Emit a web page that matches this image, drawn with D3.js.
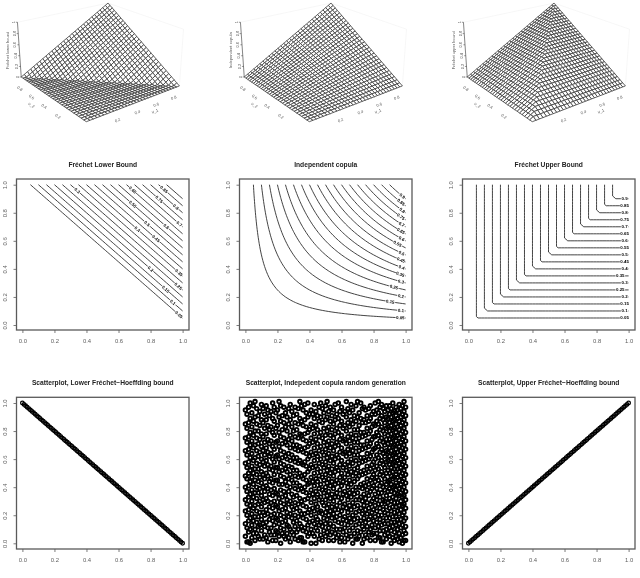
<!DOCTYPE html>
<html>
<head>
<meta charset="utf-8">
<script src="https://cdn.jsdelivr.net/npm/d3@7"></script>
<style>
html,body{margin:0;padding:0;background:#fff}
svg{display:block;filter:grayscale(1)}
text{font-family:"Liberation Sans",Arial,sans-serif}
</style>
</head>
<body>
<svg id="fig" width="640" height="578"></svg>
<script>
// Copula panel titles
const surfaceLabels = ["Fréchet lower bound", "Independent copula", "Fréchet upper bound"];
const contourTitles = ["Fréchet Lower Bound", "Independent copula", "Fréchet Upper Bound"];
const scatterTitles = ["Scatterplot, Lower Fréchet−Hoeffding bound",
                       "Scatterplot, Indepedent copula random generation",
                       "Scatterplot, Upper Fréchet−Hoeffding bound"];

// Contour levels and tick values
const levels = [0.05,0.1,0.15,0.2,0.25,0.3,0.35,0.4,0.45,0.5,0.55,0.6,0.65,0.7,0.75,0.8,0.85,0.9];
const levelText = ["0.05","0.1","0.15","0.2","0.25","0.3","0.35","0.4","0.45","0.5","0.55","0.6","0.65","0.7","0.75","0.8","0.85","0.9"];
const axisTicks = [0,0.2,0.4,0.6,0.8,1];
const surfaceAxisTicks = [0.2,0.4,0.6,0.8];
const surfaceZTicks = [0,0.2,0.4,0.6,0.8,1];

// Where along each contour its label sits (u coordinate, by level; null = unlabelled)
const lowerLabelU = [0.977,0.938,0.894,0.80,0.973,0.343,0.977,0.717,0.834,0.778,0.688,0.898,0.688,0.979,0.854,0.958,0.884,null];
const indepLabelU = [0.967,0.971,0.904,0.971,0.927,0.971,0.967,0.975,0.971,0.975,0.95,0.975,0.971,0.975,0.971,0.979,0.971,0.979];
const upperLabelU = [0.975,0.975,0.975,0.975,0.948,0.975,0.948,0.975,0.975,0.975,0.975,0.975,0.975,0.975,0.975,0.975,0.975,0.975];

// Copula functions shown in the three columns
const copulas = [
  (u,v) => Math.max(u+v-1,0),
  (u,v) => u*v,
  (u,v) => Math.min(u,v)
];
// Each level curve written as v = f(u), for placing and turning its label
const levelCurves = [
  (c,u) => c+1-u,
  (c,u) => c/u,
  (c,u) => c
];
const labelU = [lowerLabelU, indepLabelU, upperLabelU];

// Sample along the two diagonals, in hundredths
const boundU = [0,1,2,3,4,5,6,7,8,9,10,11,12,13,14,15,16,17,18,19,20,21,22,23,24,25,26,27,28,29,30,31,32,33,34,35,36,37,38,39,40,41,42,43,44,45,46,47,48,49,50,51,52,53,54,55,56,57,58,59,60,61,62,63,64,65,66,67,68,69,70,71,72,73,74,75,76,77,78,79,80,81,82,83,84,85,86,87,88,89,90,91,92,93,94,95,96,97,98,99,100];

// Independent sample: one row per v (hundredths, bottom to top), u in hundredths
const indepRows = [
[3,22,41,44,67,73,91,98],
[1,2,14,28,36,37,59,62,85,86,96],
[6,17,19,33,48,52,55,78,81,93,99,100],
[9,11,25,31,46,64,69,70,74,88,95],
[4,13,27,34,35,57,60,76,83,84,92,97],
[0,8,21,24,39,43,50,66,71,90,94],
[12,16,18,30,47,53,58,63,75,79,87,98],
[5,7,23,26,40,42,56,68,80,82,89,96,100],
[2,15,20,29,32,38,51,54,61,72,77,93],
[10,19,36,45,49,65,70,84,86,91,99],
[3,6,24,28,33,41,57,59,74,78,88,95],
[1,14,16,22,37,44,52,62,67,81,90,97],
[8,12,27,31,35,48,55,73,76,83,92,100],
[4,9,18,26,39,46,64,69,79,85,94,98],
[0,11,21,34,43,50,53,60,71,87,89,96],
[7,13,23,30,40,47,58,66,75,82,91,93],
[2,5,17,25,32,42,56,63,72,80,86,99],
[10,15,20,38,45,51,61,68,77,84,95,97],
[3,19,29,36,49,54,65,70,74,88,90,100],
[6,8,24,27,33,44,57,62,78,81,92,94],
[1,12,16,22,31,41,52,59,67,83,85,98],
[4,14,18,28,35,37,48,55,73,76,89,96],
[9,11,26,39,46,50,64,69,79,87,93,99],
[0,7,21,34,43,47,53,60,71,82,91,95],
[2,13,23,30,40,56,58,66,75,80,86,97],
[5,17,25,32,42,51,63,72,77,84,90,100],
[10,15,20,29,38,45,54,61,68,88,92,94],
[3,6,19,36,49,57,65,70,74,81,96,98],
[1,8,24,27,33,44,52,62,78,83,85,99],
[12,16,22,31,41,48,59,67,76,89,93,95],
[4,9,14,18,28,35,55,73,79,87,91,97],
[0,11,26,37,46,50,64,69,71,82,86,100],
[7,13,21,34,39,43,53,60,75,80,90,94],
[2,5,23,30,47,56,58,66,72,84,92,98],
[10,17,25,32,40,51,63,77,88,96,99],
[3,15,20,29,42,45,54,61,68,74,81,95],
[6,8,19,38,49,57,65,70,83,85,93,97],
[1,12,24,27,36,44,52,62,78,89,91,100],
[4,16,22,33,41,48,59,67,76,87,94,98],
[9,14,18,31,35,46,55,73,79,82,90,96],
[0,7,11,28,37,50,64,69,71,86,92,99],
[2,13,26,34,43,53,60,75,80,84,93,95],
[5,21,23,39,47,56,66,72,77,88,91,97],
[10,17,30,32,40,51,58,63,74,85,94,100],
[3,8,15,25,42,45,54,61,68,81,89,98],
[6,19,20,29,38,49,57,65,78,83,90,96],
[1,12,16,27,36,44,52,70,76,87,92,99],
[4,9,24,33,41,48,59,62,79,82,93,95],
[0,14,22,31,35,46,55,67,71,86,91,97],
[7,11,18,28,37,50,64,73,80,84,94,100],
[2,5,13,34,43,53,60,69,75,88,90,98],
[10,21,26,39,47,56,66,72,77,85,92,96],
[3,17,23,30,32,51,58,63,74,81,89,99],
[6,8,15,25,40,45,54,68,78,83,93,95],
[1,19,20,29,42,49,57,61,70,87,91,97],
[4,12,16,27,38,44,52,65,76,82,94,100],
[9,14,24,36,41,48,59,62,79,86,90,98],
[0,7,22,33,35,46,55,67,71,84,92,96],
[2,11,18,31,37,50,64,73,80,88,93,99],
[5,13,28,34,43,53,60,69,75,85,89,95],
[10,17,21,26,39,47,56,66,77,81,91,97],
[3,6,23,30,32,51,58,72,74,83,94,100],
[8,15,19,25,40,45,54,63,78,87,90,98],
[1,12,20,29,42,49,57,68,70,82,92,96],
[4,16,27,38,44,52,61,65,76,86,93,99],
[9,14,24,36,41,48,59,62,79,84,89,95],
[0,7,11,22,33,46,55,67,71,88,91,97],
[2,18,31,35,50,64,73,80,85,94,100],
[5,13,28,37,43,53,60,69,75,81,90,98],
[10,17,21,34,39,47,56,66,77,83,92,96],
[3,6,26,30,32,51,58,72,74,87,93,99],
[8,15,23,40,45,54,63,78,82,89,95],
[1,12,19,25,42,49,57,68,70,86,91,97],
[4,16,20,29,38,52,61,65,76,84,94,100],
[9,14,27,36,44,59,62,79,88,90,98],
[0,7,24,33,41,48,55,67,71,85,92,96],
[2,11,22,31,46,64,73,80,81,93,99],
[5,18,28,35,50,53,60,69,75,83,89,95],
[10,13,34,37,43,56,66,77,87,91,97],
[3,17,21,39,47,58,72,74,82,94,100],
[6,8,26,30,51,63,78,86,90,98],
[15,23,32,40,45,54,68,70,84,92,96],
[1,12,19,42,49,57,61,76,88,93,99],
[4,16,25,29,38,52,65,79,85,89,95],
[9,14,20,36,44,59,62,71,81,91,97],
[0,7,27,33,41,55,67,80,83,94,100],
[2,11,24,31,48,64,73,75,87,90,98],
[5,18,22,35,46,53,60,69,77,82,92,96],
[10,13,28,37,50,56,66,74,86,93,99],
[3,17,34,43,58,72,78,84,89,95],
[6,21,26,39,47,51,63,70,88,91,97],
[8,15,23,30,45,54,68,76,85,94,100],
[1,12,32,40,42,57,61,79,81,90,98],
[4,19,25,38,49,65,71,83,92,96],
[9,16,29,44,52,59,62,80,87,93,99],
[0,14,20,36,41,55,67,75,82,89,95],
[7,11,27,33,48,64,73,77,86,91,97],
[2,18,24,31,46,53,60,74,84,94,100],
[5,13,22,35,50,69,78,88,90,98],
[10,28,37,43,56,66,85,96],
[3,17,39,47,58,72,81,92],
[6,21,34,51,63,70,83,99]
];

const svg = d3.select("#fig");
const INK = "#222", AXIS = "#5a5a5a", TICKTEXT = "#5e5e5e";
const PITCH = 223;

// ---- Perspective view of a unit cube, used by the surface row ----
const THETA = 37.5*Math.PI/180, PHI = 22*Math.PI/180, EYE = 8, ZEXP = 0.52, VIEW_SCALE = 462;
function viewOf(u,v,z){
  const X = 2*u-1, Y = 2*v-1, Z = (2*z-1)*ZEXP;
  const xr = X*Math.cos(THETA) - Y*Math.sin(THETA);
  const yr = X*Math.sin(THETA) + Y*Math.cos(THETA);
  const up = yr*Math.sin(PHI) + Z*Math.cos(PHI);
  const depth = yr*Math.cos(PHI) - Z*Math.sin(PHI);
  const w = EYE + depth;
  return {x:xr/w, y:up/w, depth};
}

function drawSurface(col){
  const g = svg.append("g").attr("transform",`translate(${col*PITCH},0)`);
  const f = copulas[col];
  const o = viewOf(0,0,0);
  const sx = d3.scaleLinear().domain([o.x,o.x+1]).range([86.3,86.3+VIEW_SCALE]);
  const sy = d3.scaleLinear().domain([o.y,o.y+1]).range([121.7,121.7-VIEW_SCALE]);
  const P = (u,v,z) => { const p = viewOf(u,v,z); return [sx(p.x),sy(p.y)]; };
  const line = d3.line();

  // faint back edges of the bounding box
  [[[0,1,1],[1,1,1]],[[1,1,1],[1,0,1]],[[1,0,1],[1,0,0]]].forEach(e=>{
    g.append("path").attr("d",line(e.map(p=>P(...p))))
      .attr("fill","none").attr("stroke","#eeeeee").attr("stroke-width",0.5);
  });

  // mesh facets, far ones first
  const N = 30, cells = [];
  for(let i=0;i<N;i++) for(let j=0;j<N;j++){
    const c = [[i/N,j/N],[(i+1)/N,j/N],[(i+1)/N,(j+1)/N],[i/N,(j+1)/N]];
    const pts3 = c.map(([u,v])=>[u,v,f(u,v)]);
    cells.push({pts3, depth:d3.mean(pts3,p=>viewOf(...p).depth)});
  }
  cells.sort((a,b)=>b.depth-a.depth);
  g.append("g").selectAll("path").data(cells).join("path")
    .attr("d",d=>line(d.pts3.map(p=>P(...p)))+"Z")
    .attr("fill","#fff").attr("stroke","#3a3a3a").attr("stroke-width",0.8);

  // vertical axis on the left edge
  const zg = g.append("g");
  zg.append("path").attr("d",line([P(0,1,0),P(0,1,1)])).attr("fill","none").attr("stroke","#333").attr("stroke-width",0.6);
  surfaceZTicks.forEach(t=>{
    const p = P(0,1,t);
    zg.append("line").attr("x1",p[0]).attr("x2",p[0]-1.6).attr("y1",p[1]).attr("y2",p[1]).attr("stroke","#333").attr("stroke-width",0.5);
    zg.append("text").attr("transform",`translate(${p[0]-2.6},${p[1]}) rotate(-90)`)
      .attr("text-anchor","middle").attr("font-size",3.9).attr("fill","#555").text(d3.format("")(t));
  });
  const zm = P(0,1,0.5);
  zg.append("text").attr("transform",`translate(${zm[0]-10.6},${zm[1]}) rotate(-90)`)
    .attr("text-anchor","middle").attr("font-size",4.1).attr("fill","#555").text(surfaceLabels[col]);

  // floor axis tick labels, offset outward from the near edges
  surfaceAxisTicks.forEach(t=>{
    const a = P(t,-0.13,0);
    g.append("text").attr("transform",`translate(${a[0]},${a[1]+1}) rotate(-21)`)
      .attr("text-anchor","middle").attr("font-size",4).attr("fill","#555").text(d3.format(".1f")(t));
    const b = P(-0.13,t,0);
    g.append("text").attr("transform",`translate(${b[0]},${b[1]+1}) rotate(35)`)
      .attr("text-anchor","middle").attr("font-size",4).attr("fill","#555").text(d3.format(".1f")(t));
  });
  const ua = P(0.52,-0.2,0), va = P(-0.2,0.48,0);
  g.append("text").attr("transform",`translate(${ua[0]},${ua[1]+1}) rotate(-21)`)
    .attr("text-anchor","middle").attr("font-size",4).attr("fill","#555").text("u_1");
  g.append("text").attr("transform",`translate(${va[0]},${va[1]+1}) rotate(35)`)
    .attr("text-anchor","middle").attr("font-size",4).attr("fill","#555").text("u_2");
}

// ---- Framed 2-D panel with R-style axes ----
function frame(col, top, bottom, y0, y1, title, titleY, xLabelY){
  const left = 16.5+col*PITCH, right = 189+col*PITCH;
  const x = d3.scaleLinear().domain([0,1]).range([22.4+col*PITCH,182.6+col*PITCH]);
  const y = d3.scaleLinear().domain([0,1]).range([y0,y1]);
  const g = svg.append("g");
  const axB = d3.axisBottom(x).tickValues(axisTicks).tickFormat(d3.format(".1f")).tickSizeOuter(0).tickSize(3);
  const axL = d3.axisLeft(y).tickValues(axisTicks).tickFormat(d3.format(".1f")).tickSizeOuter(0).tickSize(3);
  const gx = g.append("g").attr("transform",`translate(0,${bottom})`).call(axB);
  const gy = g.append("g").attr("transform",`translate(${left},0)`).call(axL);
  [gx,gy].forEach(a=>{
    a.select(".domain").remove();
    a.selectAll("line").attr("stroke",AXIS).attr("stroke-width",0.8);
    a.selectAll("text").attr("font-size",5.9).attr("fill",TICKTEXT);
  });
  gx.selectAll("text").attr("y",0).attr("dy",0).attr("transform",`translate(0,${xLabelY-bottom+2})`);
  gy.selectAll("text").attr("x",0).attr("y",0).attr("dy",0).attr("text-anchor","middle")
    .attr("transform","translate(-9.5,0) rotate(-90)");
  svg.append("text").attr("x",(left+right)/2).attr("y",titleY)
    .attr("text-anchor","middle").attr("font-size",6.7).attr("font-weight","bold").attr("fill",INK).text(title);
  const box = () => svg.append("rect").attr("x",left).attr("y",top).attr("width",right-left).attr("height",bottom-top)
    .attr("fill","none").attr("stroke",AXIS).attr("stroke-width",1.3);
  return {x,y,box};
}

// ---- Contour row ----
function drawContours(col){
  const {x,y,box} = frame(col,179,330,325,184.7,contourTitles[col],167,341);
  const n = 51, f = copulas[col], values = new Float64Array(n*n);
  for(let j=0;j<n;j++) for(let i=0;i<n;i++) values[j*n+i] = f(i/(n-1),j/(n-1));
  const toPix = p => [x((p[0]-0.5)/(n-1)), y((p[1]-0.5)/(n-1))];
  const line = d3.line();
  const g = svg.append("g");
  const inside = p => p[0]>0 && p[0]<n && p[1]>0 && p[1]<n;

  levels.forEach(c=>{
    const shape = d3.contours().size([n,n]).smooth(true).thresholds([c+1e-9])(values)[0];
    // keep only the iso-line, dropping ring stretches that run along the grid boundary
    shape.coordinates.forEach(poly=>poly.forEach(ring=>{
      const pts = ring.slice(0,-1);
      const start = pts.findIndex(p=>!inside(p));
      const seq = start<0 ? pts : pts.slice(start).concat(pts.slice(0,start));
      let run = [];
      const flush = ()=>{ if(run.length>1) g.append("path").attr("d",line(run.map(toPix)))
        .attr("fill","none").attr("stroke",INK).attr("stroke-width",0.85); run=[]; };
      seq.forEach(p=>{ if(inside(p)) run.push(p); else flush(); });
      flush();
    }));
  });

  // level labels, each on a white patch that breaks its curve
  levels.forEach((c,k)=>{
    const u = labelU[col][k];
    if(u===null) return;
    const curve = levelCurves[col];
    const px = x(u), py = y(curve(c,u));
    const dx = x(u+0.005)-x(u-0.005), dy = y(curve(c,u+0.005))-y(curve(c,u-0.005));
    const ang = Math.atan2(dy,dx)*180/Math.PI;
    const t = levelText[k];
    const w = t.length*2+1.5;
    const lg = svg.append("g").attr("transform",`translate(${px},${py}) rotate(${ang})`);
    lg.append("rect").attr("x",-w/2).attr("y",-1.9).attr("width",w).attr("height",3.8).attr("fill","#fff");
    lg.append("text").attr("text-anchor","middle").attr("y",1.5).attr("font-size",4.4)
      .attr("font-weight","bold").attr("fill","#000").text(t);
  });
  box();
}

// ---- Scatter row ----
function drawScatter(col){
  const {x,y,box} = frame(col,397.3,549,543.3,403,scatterTitles[col],385,559.5);
  let pts;
  if(col===0) pts = boundU.map(u=>[u/100,1-u/100]);
  else if(col===2) pts = boundU.map(u=>[u/100,u/100]);
  else {
    pts = [];
    indepRows.forEach((row,j)=>row.forEach(u=>pts.push([u/100,j/100])));
  }
  svg.append("g").selectAll("circle").data(pts).join("circle")
    .attr("cx",d=>x(d[0])).attr("cy",d=>y(d[1])).attr("r",1.8)
    .attr("fill","none").attr("stroke","#000").attr("stroke-width",col===1?1.85:1.3);
  box();
}

[0,1,2].forEach(drawSurface);
[0,1,2].forEach(drawContours);
[0,1,2].forEach(drawScatter);
</script>
</body>
</html>
